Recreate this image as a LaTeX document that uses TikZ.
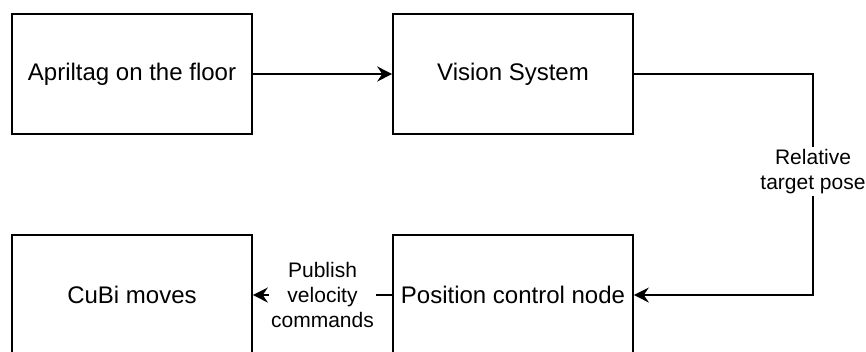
\documentclass[tikz,border=0pt]{standalone}
\usepackage{fontspec}
\setmainfont{Liberation Sans}
\usetikzlibrary{arrows.meta}

\begin{document}
\begin{tikzpicture}[x=1pt, y=-1pt, line width=1.6pt,
    >={Stealth[length=15pt, width=15pt, inset=5pt]},
    box/.style={draw, minimum width=240pt, minimum height=120pt, inner sep=0pt,
        font=\fontsize{24}{28}\selectfont},
    lbl/.style={fill=white, align=center, inner sep=2pt,
        font=\fontsize{21}{25}\selectfont}]
    \useasboundingbox (0,0) rectangle (866,351);

    % 四个方框
    \node[box] (tag) at (132,74) {Apriltag on the floor};
    \node[box] (vis) at (513,74) {Vision System};
    \node[box] (cubi) at (132,295) {CuBi moves};
    \node[box] (pos) at (513,295) {Position control node};

    % 上排箭头
    \draw[->] (tag) -- (vis);

    % 右侧折线及标注
    \coordinate (turn) at (813,74);
    \draw[->] (vis) -- (turn) |- node[lbl, pos=0.22] {Relative\\target pose} (pos);

    % 下排箭头及标注
    \draw[->] (pos) -- node[lbl] {Publish\\velocity\\commands} (cubi);
\end{tikzpicture}
\end{document}
